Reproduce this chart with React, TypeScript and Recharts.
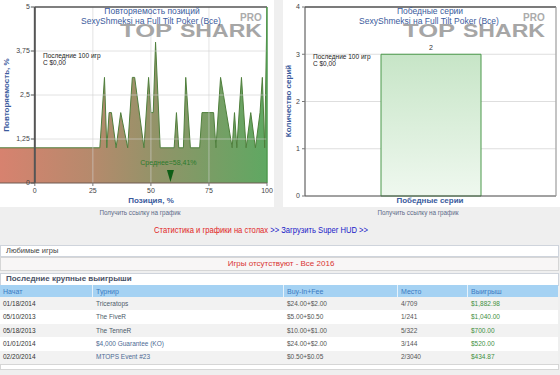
import React from 'react';
import {
  AreaChart, Area, XAxis, YAxis, ReferenceLine, ReferenceDot,
  BarChart, Bar, CartesianGrid, LabelList,
} from 'recharts';

// ---------- Position repeat chart ----------
const positionX = [-15, 28, 30, 31, 32, 33, 35, 37, 40, 42, 43, 47, 49, 50, 51, 52, 54, 60, 61, 62, 64, 65, 67, 71, 72, 77, 78, 80, 85, 86, 87, 89, 91, 93, 95, 97, 98, 99, 100];
const repeatValues = [1, 1, 3, 1, 2, 2, 1, 2, 1, 3, 3, 1, 3, 2, 2, 4, 1, 1, 2, 1, 1, 3, 1, 1, 2, 2, 1, 3, 1, 2, 1, 3, 1, 2, 1, 2, 3, 1, 5];
const posXTicks = [0, 25, 50, 75, 100];
const posYTicks = [0, 1.25, 2.5, 3.75, 5];
const posYTickLabels = ['0', '1,25', '2,5', '3,75', '5'];
const averagePosition = 58.41;
const averageLabel = 'Среднее=58,41%';

// ---------- Win streak chart ----------
const streakCategories = ['2'];
const streakCounts = [3];
const streakTicks = [0, 1, 2, 3, 4];

// ---------- Table ----------
const tableHeaders = ['Начат', 'Турнир', 'Buy-In+Fee', 'Место', 'Выигрыш'];
const winDates = ['01/18/2014', '05/10/2013', '05/18/2013', '01/01/2014', '02/20/2014'];
const winTournaments = ['Triceratops', 'The FiveR', 'The TenneR', '$4,000 Guarantee (KO)', 'MTOPS Event #23'];
const winBuyIns = ['$24.00+$2.00', '$5.00+$0.50', '$10.00+$1.00', '$24.00+$2.00', '$0.50+$0.05'];
const winPlaces = ['4/709', '1/241', '5/322', '3/144', '2/3040'];
const winAmounts = ['$1,882.98', '$1,040.00', '$700.00', '$520.00', '$434.87'];

const areaData = positionX.map((x, i) => ({ x, v: repeatValues[i] }));
const barData = streakCategories.map((name, i) => ({ name, count: streakCounts[i] }));

const FONT = 'Arial, "Liberation Sans", sans-serif';

const T: React.FC<{ x: number; y: number; size: number; color: string; bold?: boolean; align?: 'left' | 'center'; rotate?: boolean; children: React.ReactNode; style?: React.CSSProperties }> = ({ x, y, size, color, bold, align = 'left', rotate, children, style }) => (
  <div
    style={{
      position: 'absolute', left: x, top: y, fontSize: size, color, fontWeight: bold ? 'bold' : 'normal',
      lineHeight: 1, whiteSpace: 'nowrap', fontFamily: FONT,
      transform: rotate ? 'translate(-50%,-50%) rotate(-90deg)' : align === 'center' ? 'translate(-50%,-50%)' : 'translate(0,-50%)',
      pointerEvents: 'none', ...style,
    }}
  >
    {children}
  </div>
);

const Watermark: React.FC<{ x: number }> = ({ x }) => (
  <>
    <T x={x + 120} y={18} size={10} color="#ababab" bold>PRO</T>
    <T x={x} y={31} size={18} color="#a6a6a6" bold style={{ transform: 'translate(0,-50%) scaleX(1.42)', transformOrigin: 'left center' }}>TOP</T>
    <T x={x + 60} y={31} size={18} color="#a6a6a6" bold style={{ transform: 'translate(0,-50%) scaleX(1.28)', transformOrigin: 'left center' }}>SHARK</T>
  </>
);

const YTickShape = (label: string) => (props: any) => {
  const { cx, cy } = props;
  return (
    <g>
      <line x1={cx - 4} x2={cx} y1={cy} y2={cy} stroke="#555" />
      <text x={cx - 5} y={cy} dy="0.35em" textAnchor="end" fontSize={7} fill="#444" fontFamily={FONT}>{label}</text>
    </g>
  );
};

const AvgShape = (props: any) => {
  const { cx, cy } = props;
  return (
    <g>
      <path d={`M${cx - 3.5},${cy - 13} L${cx + 3.5},${cy - 13} L${cx},${cy - 1} Z`} fill="#0f5e16" />
      <text x={cx - 2} y={cy - 18} textAnchor="middle" fontSize={7} fill="#2c7a2c" fontFamily={FONT}>{averageLabel}</text>
    </g>
  );
};

export default function App() {
  const rowH = 13.4;
  const colLeft = [0, 93, 284, 398, 468];
  const rowColors = ['#333', '#4d5a6a', '#555', '#555', '#3f8f3f'];
  return (
    <div style={{ position: 'fixed', left: 0, top: 0, width: 560, height: 375, background: '#efefef', overflow: 'hidden', fontFamily: FONT }}>
      {/* Left chart */}
      <div style={{ position: 'absolute', left: 0, top: 0, width: 274, height: 207, background: '#fff' }}>
        <AreaChart width={274} height={207} data={areaData} margin={{ top: 7, right: 7, left: 0, bottom: 0 }}>
          <defs>
            <linearGradient id="posGrad" x1="0" y1="0" x2="1" y2="0">
              <stop offset="0" stopColor="#d7826f" />
              <stop offset="0.35" stopColor="#b58a6c" />
              <stop offset="0.6" stopColor="#909468" />
              <stop offset="1" stopColor="#5fa862" />
            </linearGradient>
          </defs>
          <XAxis type="number" dataKey="x" domain={[-15, 100]} allowDataOverflow ticks={posXTicks} interval={0}
            tick={{ fontSize: 7, fill: '#444', fontFamily: FONT }} tickSize={3} tickLine={{ stroke: '#777' }}
            axisLine={{ stroke: '#6e5a52' }} height={24} />
          <YAxis hide type="number" domain={[0, 5]} allowDataOverflow />
          <Area type="linear" dataKey="v" stroke="#4f7f3c" strokeWidth={1} fill="url(#posGrad)" fillOpacity={1}
            isAnimationActive={false} dot={false} activeDot={false} />
          {posYTicks.slice(1, 4).map((v) => (
            <ReferenceLine key={'h' + v} segment={[{ x: 0, y: v }, { x: 100, y: v }]} stroke="#d0d0d0" strokeOpacity={0.6} />
          ))}
          {posXTicks.slice(1, 4).map((v) => (
            <ReferenceLine key={'v' + v} x={v} stroke="#d0d0d0" strokeOpacity={0.6} />
          ))}
          <ReferenceLine segment={[{ x: 0, y: 5 }, { x: 100, y: 5 }]} stroke="#555" strokeWidth={1.5} />
          <ReferenceLine x={100} stroke="#4f9a4f" strokeWidth={1.5} />
          <ReferenceLine x={0} stroke="#555" strokeWidth={2} />
          {posYTicks.map((v, i) => (
            <ReferenceDot key={'t' + v} x={0} y={v} r={0} ifOverflow="visible" shape={YTickShape(posYTickLabels[i])} />
          ))}
          <ReferenceDot x={averagePosition} y={0} r={0} ifOverflow="visible" shape={AvgShape} />
        </AreaChart>
        <Watermark x={120} />
        <T x={152} y={11} size={8.5} color="#3b5b9d" align="center">Повторяемость позиций</T>
        <T x={151} y={21} size={8.5} color="#3b5b9d" align="center">SexyShmeksi на Full Tilt Poker (Все)</T>
        <T x={43} y={56} size={6.5} color="#222">Последние 100 игр</T>
        <T x={43} y={63} size={6.5} color="#222">С $0,00</T>
        <T x={7} y={95} size={8} color="#3b5b9d" bold rotate>Повторяемость, %</T>
        <T x={151} y={201} size={8} color="#3b5b9d" bold align="center">Позиция, %</T>
      </div>

      {/* Right chart */}
      <div style={{ position: 'absolute', left: 283, top: 0, width: 277, height: 207, background: '#fff' }}>
        <BarChart width={277} height={207} data={barData} margin={{ top: 7, right: 3, left: 0, bottom: 0 }}>
          <defs>
            <linearGradient id="barGrad" x1="0" y1="0" x2="0" y2="1">
              <stop offset="0" stopColor="#c7e5c7" />
              <stop offset="1" stopColor="#eff8ef" />
            </linearGradient>
          </defs>
          <CartesianGrid stroke="#dedede" />
          <XAxis dataKey="name" tick={false} tickLine={false} height={11} axisLine={{ stroke: '#555' }} />
          <YAxis type="number" domain={[0, 4]} ticks={streakTicks} interval={0} width={22}
            tick={{ fontSize: 7, fill: '#444', fontFamily: FONT }} tickSize={3} tickLine={{ stroke: '#777' }}
            axisLine={{ stroke: '#555' }} />
          <YAxis yAxisId="r" orientation="right" type="number" domain={[0, 4]} width={1} tick={false} tickLine={false}
            axisLine={{ stroke: '#999' }} />
          <ReferenceLine y={4} stroke="#555" strokeWidth={1.5} />
          <Bar dataKey="count" barSize={100} fill="url(#barGrad)" stroke="#4b984b" strokeWidth={1} isAnimationActive={false}>
            <LabelList dataKey="name" position="top" offset={4} fontSize={7} fill="#333" />
          </Bar>
        </BarChart>
        <Watermark x={120} />
        <T x={147} y={11} size={8.5} color="#3b5b9d" align="center">Победные серии</T>
        <T x={146} y={21} size={8.5} color="#3b5b9d" align="center">SexyShmeksi на Full Tilt Poker (Все)</T>
        <T x={30} y={57} size={6.5} color="#222">Последние 100 игр</T>
        <T x={30} y={64} size={6.5} color="#222">С $0,00</T>
        <T x={6} y={101} size={8} color="#3b5b9d" bold rotate>Количество серий</T>
        <T x={147} y={201} size={8} color="#3b5b9d" bold align="center">Победные серии</T>
      </div>

      <T x={140} y={213} size={6.3} color="#5d6b88" align="center">Получить ссылку на график</T>
      <T x={418} y={213} size={6.3} color="#5d6b88" align="center">Получить ссылку на график</T>

      <div style={{ position: 'absolute', left: 261, top: 230, fontSize: 9.5, lineHeight: 1, fontFamily: FONT, whiteSpace: 'nowrap', transform: 'translate(-50%,-50%) scaleX(0.8)' }}>
        <span style={{ color: '#e12525' }}>Статистика и графики на столах</span>
        <span style={{ color: '#2020c8' }}> &gt;&gt; Загрузить Super HUD &gt;&gt;</span>
      </div>

      {/* Favourite games */}
      <div style={{ position: 'absolute', left: 0, top: 245, width: 557, height: 10, background: '#fff', border: '1px solid #cfd4dc' }} />
      <T x={6} y={251} size={7.5} color="#444">Любимые игры</T>
      <div style={{ position: 'absolute', left: 0, top: 257, width: 557, height: 12, background: '#f8f6f6', border: '1px solid #d6d6d6' }} />
      <T x={281} y={263.5} size={8} color="#d83434" align="center">Игры отсутствуют - Все 2016</T>

      {/* Big wins */}
      <div style={{ position: 'absolute', left: 0, top: 273, width: 557, height: 11, background: '#fff', border: '1px solid #cfd4dc' }} />
      <T x={6} y={279} size={8} color="#4a5266" bold>Последние крупные выигрыши</T>
      <div style={{ position: 'absolute', left: 0, top: 285, width: 558, height: 12, background: '#a5d2f3' }} />
      {tableHeaders.map((h, c) => (
        <React.Fragment key={h}>
          {c > 0 && <div style={{ position: 'absolute', left: colLeft[c] - 1, top: 285, width: 1, height: 12, background: '#e6f2fb' }} />}
          <T x={colLeft[c] + 3} y={291} size={7} color="#3b7ac2">{h}</T>
        </React.Fragment>
      ))}
      {winDates.map((d, r) => {
        const cells = [d, winTournaments[r], winBuyIns[r], winPlaces[r], winAmounts[r]];
        const top = 297 + r * rowH;
        return (
          <React.Fragment key={d + r}>
            <div style={{ position: 'absolute', left: 0, top, width: 558, height: rowH, background: r % 2 === 0 ? '#f2f2f2' : '#fff' }} />
            {cells.map((cell, c) => (
              <T key={c} x={colLeft[c] + 3} y={top + rowH / 2} size={6.5}
                color={c === 1 && r >= 3 ? '#4d6a94' : rowColors[c]}>{cell}</T>
            ))}
          </React.Fragment>
        );
      })}
      <div style={{ position: 'absolute', left: 0, top: 364, width: 557, height: 4, background: '#fff', border: '1px solid #d6d6d6' }} />
    </div>
  );
}
